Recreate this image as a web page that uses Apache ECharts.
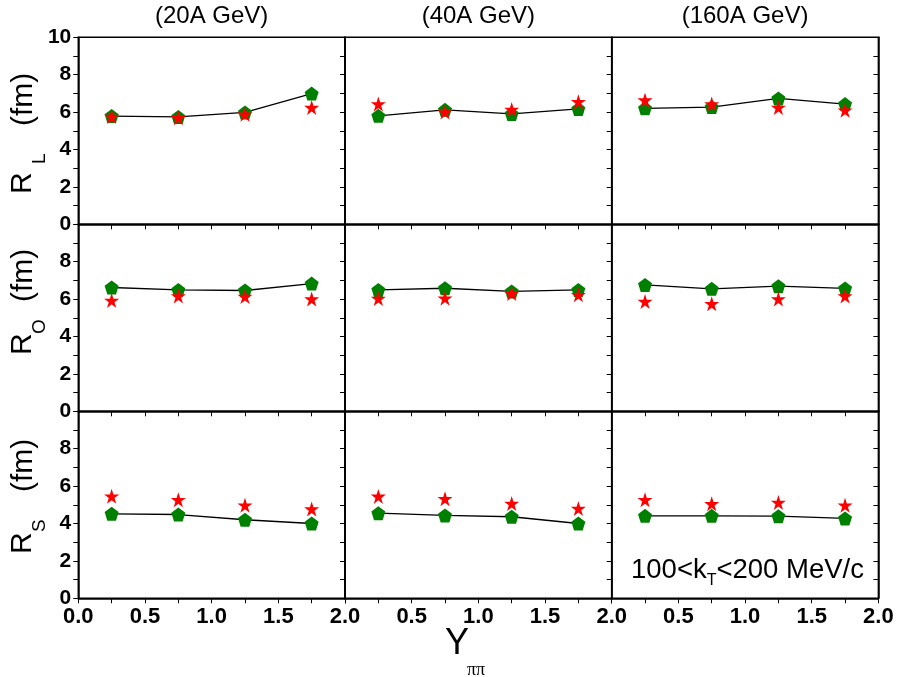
<!DOCTYPE html>
<html>
<head>
<meta charset="utf-8">
<script src="https://cdn.jsdelivr.net/npm/echarts@6/dist/echarts.min.js"></script>
<style>
html,body{margin:0;padding:0;background:#fff;}
#chart{width:897px;height:677px;}
</style>
</head>
<body>
<div id="chart"></div>
<script>
// ---- data ----
const rapidity = [0.25, 0.75, 1.25, 1.75];
const energyTitles = ['(20A GeV)', '(40A GeV)', '(160A GeV)'];
const radiusSubs = ['L', 'O', 'S'];
const xTicks = [0, 0.5, 1.0, 1.5, 2.0];
const yTicks = [0, 2, 4, 6, 8, 10];

// green pentagons joined by a line (model)
const RL_model_20  = [5.79, 5.74, 5.98, 6.99];
const RL_model_40  = [5.80, 6.12, 5.90, 6.17];
const RL_model_160 = [6.20, 6.27, 6.73, 6.43];
const RO_model_20  = [6.62, 6.49, 6.46, 6.83];
const RO_model_40  = [6.49, 6.58, 6.41, 6.49];
const RO_model_160 = [6.76, 6.55, 6.69, 6.57];
const RS_model_20  = [4.52, 4.48, 4.20, 4.00];
const RS_model_40  = [4.55, 4.43, 4.36, 4.00];
const RS_model_160 = [4.41, 4.41, 4.39, 4.27];

// red stars (data)
const RL_data_20  = [5.77, 5.70, 5.88, 6.24];
const RL_data_40  = [6.43, 6.00, 6.14, 6.55];
const RL_data_160 = [6.64, 6.43, 6.25, 6.10];
const RO_data_20  = [5.93, 6.17, 6.14, 6.00];
const RO_data_40  = [6.03, 6.05, 6.30, 6.23];
const RO_data_160 = [5.87, 5.75, 6.00, 6.17];
const RS_data_20  = [5.46, 5.27, 4.98, 4.77];
const RS_data_40  = [5.45, 5.32, 5.07, 4.80];
const RS_data_160 = [5.27, 5.05, 5.12, 4.98];

const modelRows = [
  [RL_model_20, RL_model_40, RL_model_160],
  [RO_model_20, RO_model_40, RO_model_160],
  [RS_model_20, RS_model_40, RS_model_160]
];
const dataRows = [
  [RL_data_20, RL_data_40, RL_data_160],
  [RO_data_20, RO_data_40, RO_data_160],
  [RS_data_20, RS_data_40, RS_data_160]
];

// ---- layout ----
const L0 = 78.3, PW = 266.7, T0 = 37.3, PH = 187;
const FONT = 'Liberation Sans, Arial, sans-serif';
const pentagon = 'path://M0,-1 L0.951,-0.309 L0.588,0.809 L-0.588,0.809 L-0.951,-0.309 Z';
const star = 'path://M0,-1 L0.2245,-0.309 L0.951,-0.309 L0.3633,0.118 L0.5878,0.809 L0,0.382 L-0.5878,0.809 L-0.3633,0.118 L-0.951,-0.309 L-0.2245,-0.309 Z';

const grids = [], xAxes = [], yAxes = [], series = [];
function near(v, list){ return list.some(t => Math.abs(t - v) < 1e-6); }

for (let r = 0; r < 3; r++) {
  for (let c = 0; c < 3; c++) {
    const k = r * 3 + c;
    grids.push({left: L0 + c * PW, top: T0 + r * PH, width: PW, height: PH,
      show: true, borderColor: '#000', borderWidth: 1.5, backgroundColor: 'transparent'});
    xAxes.push({
      gridIndex: k, type: 'value', min: 0, max: 2, interval: 0.25,
      axisLine: {show: true, onZero: false, lineStyle: {color: '#000', width: 1.5}},
      axisTick: {show: true, inside: false, length: 5, lineStyle: {color: '#000', width: 1}},
      splitLine: {show: false},
      axisLabel: {
        show: r === 2, margin: 8, color: '#000', fontWeight: 'bold', fontSize: 22, fontFamily: FONT,
        showMinLabel: true, showMaxLabel: true,
        formatter: function (v) {
          if (!near(v, xTicks)) return '';
          if (c > 0 && v === 0) return '';
          return v.toFixed(1);
        }
      }
    });
    yAxes.push({
      gridIndex: k, type: 'value', min: 0, max: 10, interval: 1,
      axisLine: {show: true, onZero: false, lineStyle: {color: '#000', width: 1.5}},
      axisTick: {show: true, inside: false, length: 5, lineStyle: {color: '#000', width: 1}},
      splitLine: {show: false},
      axisLabel: {
        show: c === 0, margin: 7, color: '#000', fontWeight: 'bold', fontSize: 21, fontFamily: FONT,
        formatter: function (v) {
          if (!near(v, yTicks)) return '';
          if (r > 0 && v === 10) return '';
          return String(v);
        }
      }
    });
    const yIdx = yAxes.length - 1;
    if (c === 2) {
      yAxes.push({
        gridIndex: k, type: 'value', min: 0, max: 10, interval: 1, position: 'right',
        axisLine: {show: true, onZero: false, lineStyle: {color: '#000', width: 1.5}},
        axisTick: {show: true, inside: true, length: 5, lineStyle: {color: '#000', width: 1}},
        splitLine: {show: false}, axisLabel: {show: false}
      });
    }
    series.push({
      type: 'line', xAxisIndex: k, yAxisIndex: yIdx,
      data: rapidity.map((x, i) => [x, modelRows[r][c][i]]),
      symbol: pentagon, symbolSize: 14,
      itemStyle: {color: '#008000', opacity: 1},
      lineStyle: {color: '#000', width: 1.3},
      z: 3, animation: false
    });
    series.push({
      type: 'scatter', xAxisIndex: k, yAxisIndex: yIdx,
      data: rapidity.map((x, i) => [x, dataRows[r][c][i]]),
      symbol: star, symbolSize: 15,
      itemStyle: {color: '#ff0000', opacity: 1},
      z: 4, animation: false
    });
  }
}

// ---- texts ----
const graphics = [];
energyTitles.forEach((t, c) => {
  graphics.push({type: 'text', x: L0 + c * PW + PW / 2, y: 16,
    style: {text: t, fontSize: 24, fontFamily: FONT, fill: '#000', align: 'center', verticalAlign: 'middle'}});
});
// y-axis titles: positions of R, subscript, (fm) pieces per row (rotated)
const yTitlePos = [
  {R: 194, s: 164, fm: 126},
  {R: 355, s: 334, fm: 302},
  {R: 554, s: 532, fm: 492}
];
yTitlePos.forEach((p, r) => {
  graphics.push({type: 'text', x: 23, y: p.R, rotation: Math.PI / 2,
    style: {text: 'R', fontSize: 30, fontFamily: FONT, fill: '#000', align: 'left', verticalAlign: 'middle'}});
  graphics.push({type: 'text', x: 40, y: p.s, rotation: Math.PI / 2,
    style: {text: radiusSubs[r], fontSize: 19, fontFamily: FONT, fill: '#000', align: 'left', verticalAlign: 'middle'}});
  graphics.push({type: 'text', x: 24, y: p.fm, rotation: Math.PI / 2,
    style: {text: '(fm)', fontSize: 30, fontFamily: FONT, fill: '#000', align: 'left', verticalAlign: 'middle'}});
});
// x-axis title
graphics.push({type: 'text', x: 457, y: 644,
  style: {text: 'Y', fontSize: 36, fontFamily: FONT, fill: '#000', align: 'center', verticalAlign: 'middle'}});
graphics.push({type: 'text', x: 476, y: 670,
  style: {text: 'ππ', fontSize: 18, fontFamily: 'Liberation Serif, serif', fill: '#000', align: 'center', verticalAlign: 'middle'}});
// annotation
graphics.push({type: 'text', x: 631, y: 551,
  style: {
    text: '{a|100<k}{b|T}{a|<200 MeV/c}', align: 'left', verticalAlign: 'top',
    rich: {
      a: {fontSize: 27.5, fontFamily: FONT, fill: '#000', lineHeight: 38, verticalAlign: 'middle'},
      b: {fontSize: 16, fontFamily: FONT, fill: '#000', lineHeight: 15, verticalAlign: 'bottom'}
    }
  }});

const chart = echarts.init(document.getElementById('chart'), null, {renderer: 'canvas'});
chart.setOption({
  animation: false,
  backgroundColor: '#fff',
  grid: grids, xAxis: xAxes, yAxis: yAxes, series: series,
  graphic: graphics
});
</script>
</body>
</html>
